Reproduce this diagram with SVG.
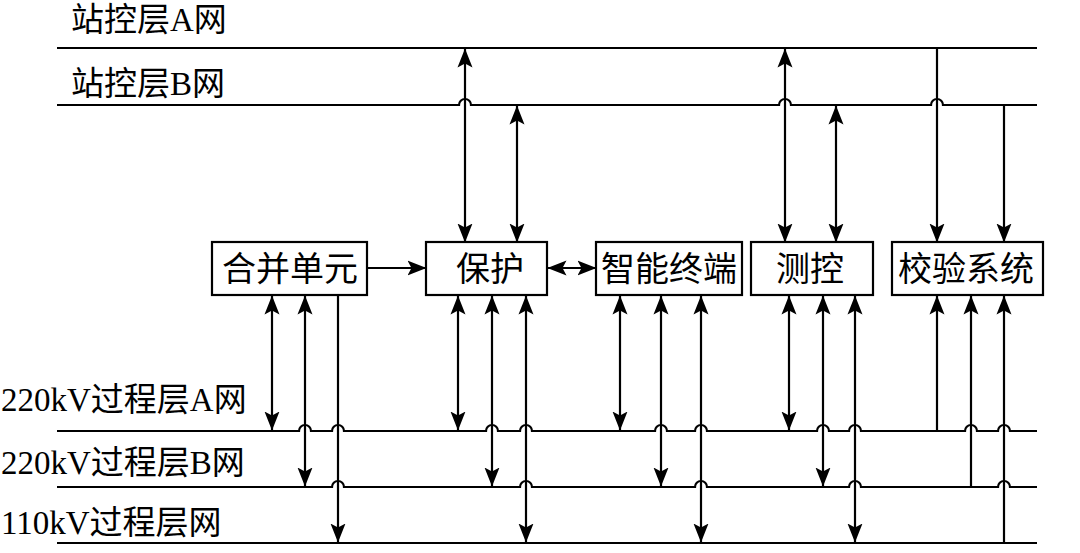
<svg xmlns="http://www.w3.org/2000/svg" width="1080" height="553" viewBox="0 0 1080 553">
<style>
.bg{fill:#fff}
.net{fill:none;stroke:#000;stroke-width:2.2}
.lbl{font-family:"Liberation Serif","Noto Sans CJK SC",serif;font-size:33px;fill:#000}
.box{fill:#fff;stroke:#000;stroke-width:2.2}
.btxt{font-family:"Liberation Serif","Noto Sans CJK SC",serif;font-size:34px;fill:#000;text-anchor:middle;dominant-baseline:central}
.c{fill:none;stroke:#000;stroke-width:2.2}
.a2{marker-start:url(#ah);marker-end:url(#ah)}
.a1{marker-end:url(#ah)}
</style>
<defs>
<marker id="ah" markerUnits="userSpaceOnUse" markerWidth="19" markerHeight="16" viewBox="0 0 19 16" refX="18.5" refY="8" orient="auto-start-reverse">
<path d="M19,8 L0,0.5 L4,8 L0,15.5 Z" fill="#000"/>
</marker>
</defs>
<rect class="bg" x="0" y="0" width="1080" height="553"/>

<g id="net-station-A">
<text class="lbl" x="71" y="31">站控层A网</text>
<path class="net" d="M57,48 H1037"/>
</g>
<g id="net-station-B">
<text class="lbl" x="71" y="95">站控层B网</text>
<path class="net" d="M57,105 H459 a6,6 0 0 1 12,0 H779 a6,6 0 0 1 12,0 H931 a6,6 0 0 1 12,0 H1037"/>
</g>
<g id="net-process-A">
<text class="lbl" x="1" y="411">220kV过程层A网</text>
<path class="net" d="M57,431 H299 a6,6 0 0 1 12,0 H332 a6,6 0 0 1 12,0 H486 a6,6 0 0 1 12,0 H520 a6,6 0 0 1 12,0 H655 a6,6 0 0 1 12,0 H695 a6,6 0 0 1 12,0 H817 a6,6 0 0 1 12,0 H849 a6,6 0 0 1 12,0 H965 a6,6 0 0 1 12,0 H998 a6,6 0 0 1 12,0 H1037"/>
</g>
<g id="net-process-B">
<text class="lbl" x="1" y="474">220kV过程层B网</text>
<path class="net" d="M57,487 H332 a6,6 0 0 1 12,0 H520 a6,6 0 0 1 12,0 H695 a6,6 0 0 1 12,0 H849 a6,6 0 0 1 12,0 H998 a6,6 0 0 1 12,0 H1037"/>
</g>
<g id="net-process-110">
<text class="lbl" x="1" y="534">110kV过程层网</text>
<path class="net" d="M57,543 H1037"/>
</g>

<g id="connectors">
<path class="c a2" d="M465,49 V242"/>
<path class="c a2" d="M517,106 V242"/>
<path class="c a2" d="M785,49 V242"/>
<path class="c a2" d="M836,106 V242"/>
<path class="c a1" d="M937,48 V242"/>
<path class="c a1" d="M1004,105 V242"/>
<path class="c a1" d="M368,268 H426"/>
<path class="c a2" d="M548,268 H596"/>
<path class="c a2" d="M272,296 V430"/>
<path class="c a2" d="M305,296 V486"/>
<path class="c a1" d="M338,296 V542"/>
<path class="c a2" d="M458,296 V430"/>
<path class="c a2" d="M492,296 V486"/>
<path class="c a2" d="M526,296 V542"/>
<path class="c a2" d="M620,296 V430"/>
<path class="c a2" d="M661,296 V486"/>
<path class="c a2" d="M701,296 V542"/>
<path class="c a2" d="M789,296 V430"/>
<path class="c a2" d="M823,296 V486"/>
<path class="c a2" d="M855,296 V542"/>
<path class="c a1" d="M937,431 V296"/>
<path class="c a1" d="M971,487 V296"/>
<path class="c a1" d="M1004,543 V296"/>
</g>

<g id="node-merge">
<rect class="box" x="212" y="242" width="155" height="53"/>
<text class="btxt" x="290" y="269">合并单元</text>
</g>
<g id="node-protect">
<rect class="box" x="426" y="242" width="121" height="53"/>
<text class="btxt" x="490" y="269">保护</text>
</g>
<g id="node-terminal">
<rect class="box" x="596" y="242" width="146" height="53"/>
<text class="btxt" x="669" y="269">智能终端</text>
</g>
<g id="node-control">
<rect class="box" x="751" y="242" width="122" height="53"/>
<text class="btxt" x="810" y="269">测控</text>
</g>
<g id="node-verify">
<rect class="box" x="892" y="242" width="151" height="53"/>
<text class="btxt" x="966" y="269">校验系统</text>
</g>
</svg>
